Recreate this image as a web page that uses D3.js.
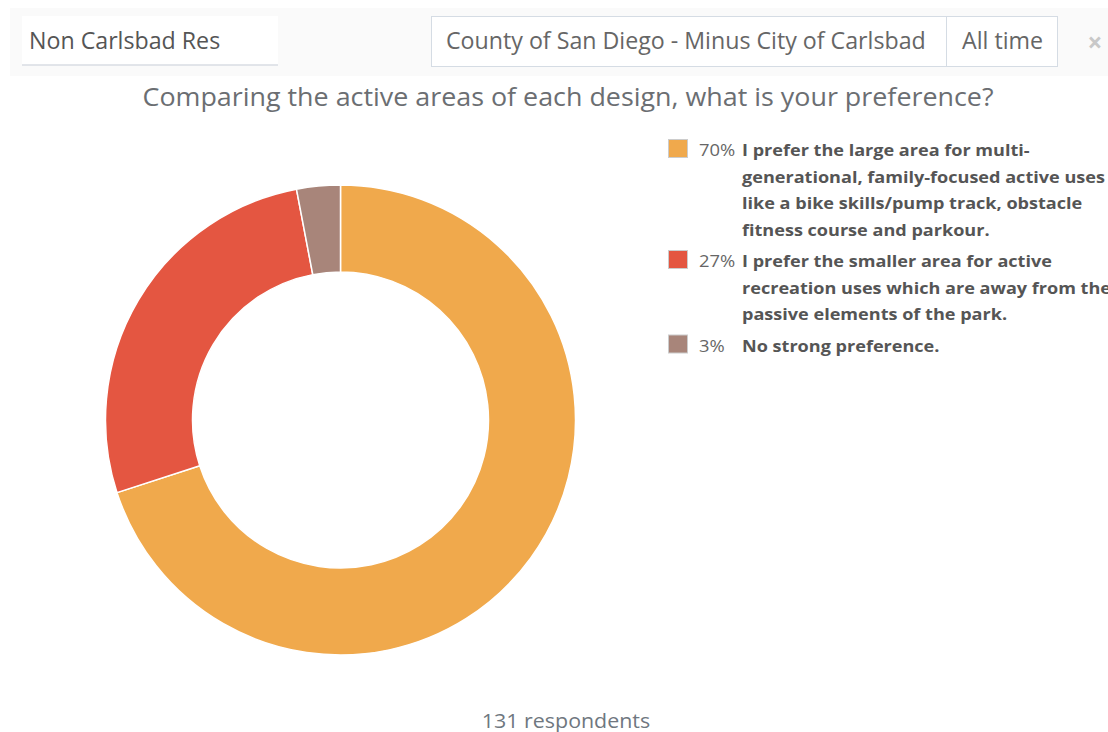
<!DOCTYPE html>
<html><head><meta charset="utf-8">
<script src="https://cdn.jsdelivr.net/npm/d3@7"></script>
<style>
html,body{margin:0;padding:0;background:#fff;font-family:"Open Sans",sans-serif;}
</style></head>
<body>
<svg id="chart" width="1108" height="732"></svg>
<script>
const categories = [
  "I prefer the large area for multi-|generational, family-focused active uses|like a bike skills/pump track, obstacle|fitness course and parkour.",
  "I prefer the smaller area for active|recreation uses which are away from the|passive elements of the park.",
  "No strong preference."
];
const values = [70, 27, 3];
const colors = ["#f0a94c", "#e45641", "#a8857a"];
const title = "Comparing the active areas of each design, what is your preference?";
const filterLabel = "Non Carlsbad Res";
const regionLabel = "County of San Diego - Minus City of Carlsbad";
const timeLabel = "All time";
const respondents = "131 respondents";

const svg = d3.select("#chart");

function txt(parent, x, y, s, size, sx, opts={}) {
  const t = parent.append("text")
    .attr("transform", `translate(${x},${y}) scale(${sx},1)`)
    .attr("font-size", size)
    .attr("fill", opts.fill || "#666")
    .text(s);
  if (opts.anchor) t.attr("text-anchor", opts.anchor);
  if (opts.bold) t.attr("font-weight", "bold");
  return t;
}

// top filter bar
svg.append("rect").attr("x",10).attr("y",8).attr("width",1098).attr("height",68).attr("fill","#fafafa");
svg.append("rect").attr("x",22).attr("y",16).attr("width",256).attr("height",49).attr("fill","#fff");
svg.append("line").attr("x1",22).attr("x2",278).attr("y1",65).attr("y2",65).attr("stroke","#d8dde3").attr("stroke-width",1.5);
txt(svg, 29, 49, filterLabel, 23.2, 1, {fill:"#555"});
svg.append("rect").attr("x",431.5).attr("y",16.5).attr("width",515).attr("height",50).attr("fill","#fff").attr("stroke","#d5dce4");
txt(svg, 446, 49, regionLabel, 23.2, 1, {fill:"#666"});
svg.append("rect").attr("x",946.5).attr("y",16.5).attr("width",111).attr("height",50).attr("fill","#fff").attr("stroke","#d5dce4");
txt(svg, 962, 49, timeLabel, 23.2, 1, {fill:"#666"});
txt(svg, 1095, 52, "×", 26, 1, {fill:"#c8c8c8", anchor:"middle", bold:true});

// title
txt(svg, 568, 106, title, 25, 1.075, {fill:"#6b6e72", anchor:"middle"});

// donut
const cx = 340.5, cy = 420, rOuter = 235, rInner = 148;
const pie = d3.pie().sort(null).value(d => d);
const arc = d3.arc().innerRadius(rInner).outerRadius(rOuter);
const g = svg.append("g").attr("transform",`translate(${cx},${cy})`);
g.selectAll("path").data(pie(values)).join("path")
  .attr("d", arc).attr("fill",(d,i)=>colors[i]).attr("stroke","#fff").attr("stroke-width",1.5);

// legend
const lg = svg.append("g");
let y = 151;
const lineH = 26.5;
categories.forEach((c,i)=>{
  const lines = c.split("|");
  lg.append("rect").attr("x",668.5).attr("y",y-11.5).attr("width",19).attr("height",18).attr("fill",colors[i]).attr("stroke","#ccc").attr("stroke-width",1);
  txt(lg, 699, y+5, values[i]+"%", 16, 1.15, {fill:"#666"});
  lines.forEach((l,j)=>{
    txt(lg, 742, y+5+j*lineH, l, 16, 1.13, {fill:"#555", bold:true});
  });
  y += lines.length*lineH + 5;
});

txt(svg, 566, 728, respondents, 20, 1.07, {fill:"#6f7780", anchor:"middle"});
</script>
</body></html>
